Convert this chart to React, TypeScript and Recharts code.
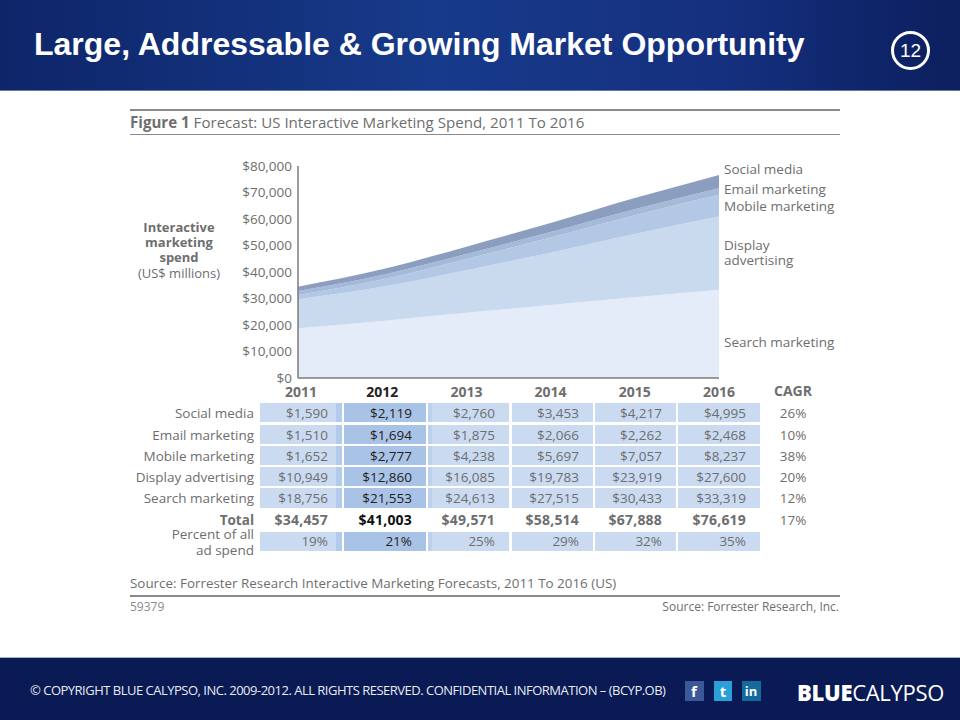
import React from "react";
import { AreaChart, Area, XAxis, YAxis } from "recharts";

const years = ["2011", "2012", "2013", "2014", "2015", "2016"];
const social = [1590, 2119, 2760, 3453, 4217, 4995];
const email = [1510, 1694, 1875, 2066, 2262, 2468];
const mobile = [1652, 2777, 4238, 5697, 7057, 8237];
const display = [10949, 12860, 16085, 19783, 23919, 27600];
const search = [18756, 21553, 24613, 27515, 30433, 33319];
const totals = [34457, 41003, 49571, 58514, 67888, 76619];
const percents = ["19%", "21%", "25%", "29%", "32%", "35%"];
const cagr = ["26%", "10%", "38%", "20%", "12%", "17%"];
const yTicks = [0, 10000, 20000, 30000, 40000, 50000, 60000, 70000, 80000];

const chartData = years.map((year, i) => ({
  year,
  search: search[i],
  display: display[i],
  mobile: mobile[i],
  email: email[i],
  social: social[i],
}));

const tableRows = [
  { name: "Social media", values: social, top: 403, h: 19 },
  { name: "Email marketing", values: email, top: 425, h: 19 },
  { name: "Mobile marketing", values: mobile, top: 446, h: 19 },
  { name: "Display advertising", values: display, top: 467, h: 19 },
  { name: "Search marketing", values: search, top: 488, h: 20 },
];

const colLeft = [260, 344, 428, 512, 595, 678];
const colRight = [342, 426, 509, 593, 676, 760];
const valueRight = [328, 412, 495, 579, 662, 746];

const FONT = "'Open Sans', 'Noto Sans', sans-serif";
const GREY = "#6e6e6e";

const txt = (
  text: React.ReactNode,
  x: number,
  y: number,
  o: { align?: "left" | "right" | "center"; size?: number; bold?: boolean; color?: string; font?: string; lh?: number; spacing?: number } = {}
) => {
  const { align = "left", size = 13.5, bold = false, color = GREY, font = FONT, lh = 14, spacing = 0 } = o;
  const w = 500;
  const left = align === "left" ? x : align === "right" ? x - w : x - w / 2;
  return (
    <div
      key={String(typeof text === "string" ? text : "block") + x + y}
      style={{
        position: "absolute",
        left,
        top: y - lh / 2,
        width: w,
        lineHeight: lh + "px",
        textAlign: align,
        fontSize: size,
        fontWeight: bold ? 700 : 400,
        letterSpacing: spacing,
        color,
        fontFamily: font,
        whiteSpace: "nowrap",
      }}
    >
      {text}
    </div>
  );
};

const box = (x: number, y: number, w: number, h: number, bg: string, key: string) => (
  <div key={key} style={{ position: "absolute", left: x, top: y, width: w, height: h, background: bg }} />
);

const money = (v: number) => "$" + v.toLocaleString("en-US");

const YearTick = (props: any) => {
  const { x, y, payload, index } = props;
  return (
    <text
      x={x + (index === 0 ? 3 : 0)}
      y={y + 7}
      textAnchor="middle"
      dominantBaseline="middle"
      fontFamily={FONT}
      fontSize={14}
      fontWeight={700}
      fill={payload.value === "2012" ? "#222222" : GREY}
    >
      {payload.value}
    </text>
  );
};

const Cell = (row: { top: number; h: number }, c: number, prefix: string) => {
  const items = [box(colLeft[c], row.top, colRight[c] - colLeft[c], row.h, c === 1 ? "#a9c3e6" : "#c9daf1", prefix + "cell" + c)];
  if (c === 0) items.push(box(336, row.top, 6, row.h, "#b3cbea", prefix + "strip0"));
  if (c === 2) items.push(box(428, row.top, 4, row.h, "#bcd1ec", prefix + "strip2"));
  return items;
};

export default function App() {
  return (
    <div style={{ position: "absolute", left: 0, top: 0, width: 960, height: 720, overflow: "hidden", background: "#fff" }}>
      <div
        style={{
          position: "absolute", left: 0, top: 0, width: 960, height: 90,
          background: "linear-gradient(90deg, #0e2569 0%, #173a8a 45%, #15307f 75%, #0c1f5e 100%)",
          borderBottom: "1px solid #5f78ad",
        }}
      />
      {txt("Large, Addressable & Growing Market Opportunity", 34, 44, {
        size: 32, bold: true, color: "#ffffff", font: "'Liberation Sans', Arial, sans-serif", lh: 38,
      })}
      <div
        style={{
          position: "absolute", left: 891, top: 31, width: 33, height: 33, border: "3px solid #fff",
          borderRadius: "50%", color: "#fff", textAlign: "center", lineHeight: "33px", fontSize: 19,
          fontFamily: "'Liberation Sans', Arial, sans-serif",
        }}
      >
        12
      </div>

      {box(130, 109, 710, 2, "#8a8a8a", "ruleTop")}
      {box(130, 134, 710, 1, "#8a8a8a", "ruleSub")}
      <div style={{ position: "absolute", left: 130, top: 112, height: 20, lineHeight: "20px", fontSize: 15.1, color: GREY, fontFamily: FONT, whiteSpace: "nowrap" }}>
        <b>Figure 1</b> Forecast: US Interactive Marketing Spend, 2011 To 2016
      </div>

      <div style={{ position: "absolute", left: 100, top: 220, width: 158, textAlign: "center", fontFamily: FONT, fontSize: 13, lineHeight: "15.2px", color: GREY, whiteSpace: "nowrap" }}>
        <b>Interactive<br />marketing<br />spend</b>
        <br />
        (US$ millions)
      </div>

      {txt("Social media", 724, 169)}
      {txt("Email marketing", 724, 189)}
      {txt("Mobile marketing", 724, 206)}
      <div style={{ position: "absolute", left: 724, top: 238, lineHeight: "15px", fontFamily: FONT, fontSize: 13.5, color: GREY, whiteSpace: "nowrap" }}>
        Display<br />advertising
      </div>
      {txt("Search marketing", 724, 342)}

      <div style={{ position: "absolute", left: 0, top: 0 }}>
        <AreaChart width={960} height={720} data={chartData} margin={{ top: 166, right: 241, bottom: 312, left: 238 }}>
          <XAxis
            dataKey="year"
            height={30}
            tickLine={false}
            interval={0}
            padding={{ left: 0, right: 0 }}
            axisLine={{ stroke: "#7b7b7b", strokeWidth: 1.5 }}
            tick={<YearTick />}
          />
          <YAxis
            width={60}
            domain={[0, 80000]}
            ticks={yTicks}
            tickLine={false}
            tickMargin={0}
            axisLine={{ stroke: "#7b7b7b", strokeWidth: 1.5 }}
            tickFormatter={(v: number) => money(v)}
            tick={{ fill: GREY, fontSize: 13.5, fontFamily: FONT }}
          />
          <Area dataKey="search" stackId="a" type="monotone" fill="#e4ecf9" fillOpacity={1} stroke="none" isAnimationActive={false} />
          <Area dataKey="display" stackId="a" type="monotone" fill="#c9d9ee" fillOpacity={1} stroke="none" isAnimationActive={false} />
          <Area dataKey="mobile" stackId="a" type="monotone" fill="#b3c8e5" fillOpacity={1} stroke="none" isAnimationActive={false} />
          <Area dataKey="email" stackId="a" type="monotone" fill="#a5b9d8" fillOpacity={1} stroke="none" isAnimationActive={false} />
          <Area dataKey="social" stackId="a" type="monotone" fill="#8c9ec0" fillOpacity={1} stroke="none" isAnimationActive={false} />
        </AreaChart>
      </div>

      {txt("CAGR", 793, 391, { align: "center", bold: true, size: 14 })}

      {tableRows.map((row) => (
        <React.Fragment key={row.name}>
          {years.map((_, c) => Cell(row, c, row.name))}
          {txt(row.name, 254, row.top + 9.5, { align: "right" })}
          {row.values.map((v, c) =>
            txt(money(v), valueRight[c], row.top + 9.5, {
              align: "right",
              color: c === 1 ? "#222222" : GREY,
            })
          )}
        </React.Fragment>
      ))}
      {tableRows.map((row, i) => txt(cagr[i], 793, row.top + 9.5, { align: "center" }))}

      {txt("Total", 254, 520, { align: "right", bold: true })}
      {totals.map((v, c) =>
        txt(money(v), valueRight[c], 520, { align: "right", bold: true, size: 14, spacing: 0.2, color: c === 1 ? "#111111" : GREY })
      )}
      {txt(cagr[5], 793, 520, { align: "center" })}

      {txt("Percent of all", 254, 534, { align: "right" })}
      {txt("ad spend", 254, 550, { align: "right" })}
      {years.map((_, c) => Cell({ top: 532, h: 19 }, c, "pct"))}
      {percents.map((p, c) =>
        txt(p, valueRight[c], 541, { align: "right", color: c === 1 ? "#222222" : GREY })
      )}

      {txt("Source: Forrester Research Interactive Marketing Forecasts, 2011 To 2016 (US)", 130, 583, { size: 13.4 })}
      {box(130, 595, 710, 2, "#8a8a8a", "ruleBottom")}
      {txt("59379", 130, 607, { size: 12, color: "#8a8a8a" })}
      {txt("Source: Forrester Research, Inc.", 839, 607, { align: "right", size: 12 })}

      {box(0, 658, 960, 62, "#0a1a54", "footer")}
      {box(0, 657, 960, 1, "#9fb0d0", "footerRule")}
      <div style={{ position: "absolute", left: 30, top: 680, height: 20, lineHeight: "20px", fontSize: 13, letterSpacing: -0.5, fontFamily: FONT, color: "#e8ebf3", whiteSpace: "nowrap", fontWeight: 500 }}>
        © COPYRIGHT BLUE CALYPSO, INC. 2009-2012. ALL RIGHTS RESERVED. CONFIDENTIAL INFORMATION – (BCYP.OB)
      </div>
      {box(685, 681, 19, 20, "#3b5998", "fb")}
      {box(714, 681, 18, 20, "#2a9fd8", "tw")}
      {box(742, 681, 19, 20, "#146a9c", "li")}
      {txt("f", 694, 691, { align: "center", bold: true, color: "#fff", size: 15 })}
      {txt("t", 723, 691, { align: "center", bold: true, color: "#fff", size: 15 })}
      {txt("in", 751, 691, { align: "center", bold: true, color: "#fff", size: 13 })}
      <div style={{ position: "absolute", left: 797, top: 680, height: 24, lineHeight: "24px", fontSize: 22, color: "#fff", fontFamily: FONT, whiteSpace: "nowrap", letterSpacing: -0.3 }}>
        <b style={{ fontWeight: 800 }}>BLUE</b>CALYPSO
      </div>
    </div>
  );
}
